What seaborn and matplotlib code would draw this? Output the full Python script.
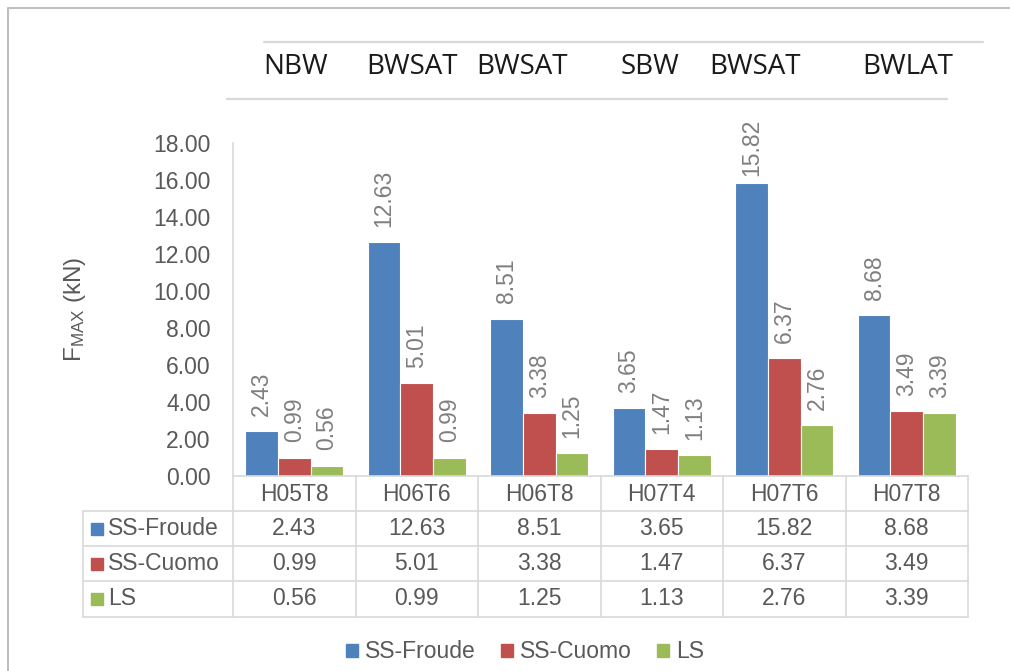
import pandas as pd
import matplotlib.pyplot as plt
import seaborn as sns
from matplotlib.lines import Line2D
from matplotlib.patches import Rectangle, Patch

# datos
cases = ["H05T8", "H06T6", "H06T8", "H07T4", "H07T6", "H07T8"]
breakers = ["NBW", "BWSAT", "BWSAT", "SBW", "BWSAT", "BWLAT"]
methods = ["SS-Froude", "SS-Cuomo", "LS"]
ss_froude = [2.43, 12.63, 8.51, 3.65, 15.82, 8.68]
ss_cuomo = [0.99, 5.01, 3.38, 1.47, 6.37, 3.49]
ls = [0.56, 0.99, 1.25, 1.13, 2.76, 3.39]
y_ticks = [0, 2, 4, 6, 8, 10, 12, 14, 16, 18]

colors = ["#4F81BD", "#C0504D", "#9BBB59"]
grid_c = "#d9d9d9"
text_c = "#595959"

series = [ss_froude, ss_cuomo, ls]
df = pd.DataFrame({
    "case": cases * 3,
    "method": [m for m in methods for _ in cases],
    "F": ss_froude + ss_cuomo + ls,
})

sns.set_theme(style="white")
plt.rcParams["font.family"] = ["Liberation Sans", "DejaVu Sans"]
plt.rcParams["mathtext.default"] = "regular"

W, H = 1010, 671
fig = plt.figure(figsize=(W / 100, H / 100), dpi=100)
ax = fig.add_axes([233 / W, 1 - 476 / H, 735 / W, 333 / H])

sns.barplot(data=df, x="case", y="F", hue="method", palette=colors,
            saturation=1, width=0.8, edgecolor="white", linewidth=0.8,
            legend=False, ax=ax)

ax.set_ylim(0, 18)
ax.set_xlim(-0.5, len(cases) - 0.5)
ax.set_yticks(y_ticks)
ax.set_yticklabels([f"{v:.2f}" for v in y_ticks], color=text_c, fontsize=16.5)
ax.tick_params(axis="y", length=0, pad=16)
ax.set_xticks(range(len(cases)))
ax.set_xticklabels(cases, color=text_c, fontsize=16.5)
ax.tick_params(axis="x", length=0, pad=5)
ax.set_xlabel("")
ax.set_ylabel(r"F$_{MAX}$ (kN)", color=text_c, fontsize=17.5)
ax.yaxis.set_label_coords(-0.197, 0.5)

for s in ["top", "right"]:
    ax.spines[s].set_visible(False)
for s in ["left", "bottom"]:
    ax.spines[s].set_color(grid_c)
    ax.spines[s].set_linewidth(1.2)

# etiquetas de valores
labels = []
for cont in ax.containers:
    for bar in cont:
        v = bar.get_height()
        t = ax.annotate(f"{v:.2f}", (bar.get_x() + bar.get_width() / 2, v),
                        xytext=(0, 11), textcoords="offset points",
                        ha="center", va="bottom", rotation=90,
                        color="#7f7f7f", fontsize=16.5)
        labels.append(t)

# tabla de datos
row_h = 0.1055
left = -0.204
tkw = dict(transform=ax.transAxes, color=grid_c, lw=1.2, clip_on=False)
for k in range(len(methods) + 1):
    y = -row_h * (k + 1)
    ax.plot([left, 1], [y, y], **tkw)
ax.plot([left, left], [-row_h, -row_h * 4], **tkw)
bt = ax.get_xaxis_transform()
for i in range(len(cases) + 1):
    ax.plot([i - 0.5, i - 0.5], [0, -row_h * 4], transform=bt, color=grid_c,
            lw=1.2, clip_on=False)

for k, (m, vals, c) in enumerate(zip(methods, series, colors)):
    yc = -row_h * (k + 1.5)
    ax.add_patch(Rectangle((left + 8 / 735, yc - 6 / 333), 12 / 735, 12 / 333,
                           transform=ax.transAxes, color=c, clip_on=False))
    ax.text(left + 25 / 735, yc, m, transform=ax.transAxes, ha="left",
            va="center", color=text_c, fontsize=16.5)
    for i, v in enumerate(vals):
        ax.text(i, yc, f"{v:.2f}", transform=bt, ha="center", va="center",
                color=text_c, fontsize=16.5)

# etiquetas de tipo de rotura
top_label_x = [296, 412, 522, 650, 755, 908]
for x, b in zip(top_label_x, breakers):
    fig.text(x / W, 1 - 67 / H, b, ha="center", va="center", fontsize=20,
             color="#1a1a1a", family=["Open Sans", "DejaVu Sans"])
fig.add_artist(Line2D([264 / W, 983 / W], [1 - 41.5 / H] * 2, color=grid_c, lw=1.6))
fig.add_artist(Line2D([227 / W, 947 / W], [1 - 99 / H] * 2, color=grid_c, lw=1.6))

# borde
fig.add_artist(Line2D([8 / W, 8 / W, 1], [0, 1 - 8 / H, 1 - 8 / H],
                      color="#bfbfbf", lw=1.5))

handles = [Patch(color=c, label=m) for m, c in zip(methods, colors)]
fig.legend(handles=handles, loc="center", bbox_to_anchor=(525 / W, 1 - 652 / H),
           ncol=3, frameon=False, fontsize=16.5, handlelength=0.52,
           handleheight=0.52, handletextpad=0.3, columnspacing=1.1,
           labelcolor=text_c)

# bajar etiquetas que salen demasiado por arriba
fig.canvas.draw()
r = fig.canvas.get_renderer()
limit = ax.transAxes.transform((0, 1))[1] + 24
for t in labels:
    bb = t.get_window_extent(r)
    if bb.y1 > limit:
        shift = bb.y1 - limit
        t.xyann = (0, max(1.5, t.xyann[1] - shift * 72 / 100))

fig.savefig("out.png", dpi=100)
